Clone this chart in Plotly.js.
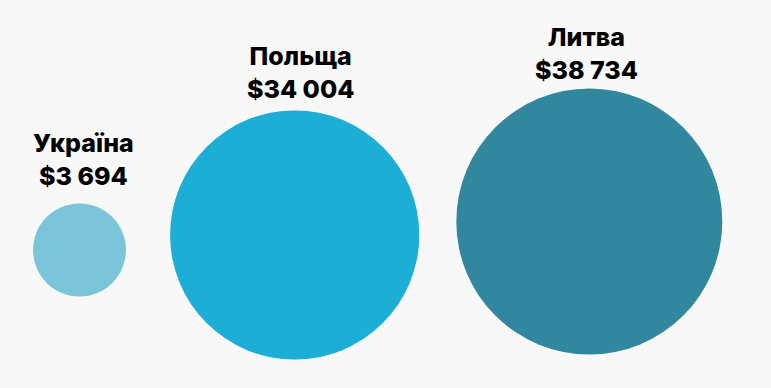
<!DOCTYPE html>
<html>
<head>
<meta charset="utf-8">
<script src="https://cdn.plot.ly/plotly-3.0.1.min.js"></script>
<style>html,body{margin:0;padding:0;background:#f8f8f8;}#chart{width:771px;height:388px;}</style>
</head>
<body>
<div id="chart"></div>
<script>
// Data
const countries = ["Україна", "Польща", "Литва"];
const values = [3694, 34004, 38734];

// Styles / layout (not data)
const colors = ["#7bc5da", "#1daed5", "#31879d"];
const centersPx = [[79.5, 250], [294.7, 235], [589.3, 221.5]];
const labelGap = [11, 4, 1];
const labelShiftX = [4, 6, -3];
const W = 771, H = 388;
const maxDiameter = 266;
const minDiameter = 93;
const sizeref = 2 * Math.max(...values) / (maxDiameter * maxDiameter);

function fmt(v) {
  return String(v).replace(/\B(?=(\d{3})+(?!\d))/g, " ");
}
function diameter(v) {
  return Math.max(Math.sqrt(2 * v / sizeref), minDiameter);
}

const traces = [];
const annotations = [];
const layout = {
  width: W, height: H,
  margin: {l: 0, r: 0, t: 0, b: 0},
  paper_bgcolor: "#f8f8f8",
  plot_bgcolor: "rgba(0,0,0,0)",
  showlegend: false,
  hovermode: false
};

countries.forEach((c, i) => {
  const ax = i === 0 ? "" : String(i + 1);
  traces.push({
    type: "scatter",
    mode: "markers",
    x: [c],
    y: [values[i]],
    xaxis: "x" + ax,
    yaxis: "y" + ax,
    cliponaxis: false,
    marker: {
      size: [values[i]],
      sizemode: "area",
      sizeref: sizeref,
      sizemin: minDiameter / 2,
      color: colors[i],
      line: {width: 0},
      opacity: 1
    }
  });
  annotations.push({
    x: c, y: values[i], xref: "x" + ax, yref: "y" + ax,
    text: c + "<br>$" + fmt(values[i]),
    showarrow: false,
    xanchor: "center", yanchor: "bottom",
    xshift: labelShiftX[i],
    yshift: diameter(values[i]) / 2 + labelGap[i],
    font: {family: "Inter, Roboto, sans-serif", size: 25, weight: 800, color: "#000"}
  });
  const fx = centersPx[i][0] / W;
  const fy = 1 - centersPx[i][1] / H;
  const d = 0.02;
  layout["xaxis" + ax] = {
    domain: [fx - d, fx + d], type: "category", visible: false, fixedrange: true,
    anchor: "y" + ax
  };
  layout["yaxis" + ax] = {
    domain: [fy - d, fy + d], range: [values[i] * 0.5, values[i] * 1.5], visible: false,
    fixedrange: true, anchor: "x" + ax
  };
});
layout.annotations = annotations;

Plotly.newPlot("chart", traces, layout, {displayModeBar: false, staticPlot: true});
</script>
</body>
</html>
